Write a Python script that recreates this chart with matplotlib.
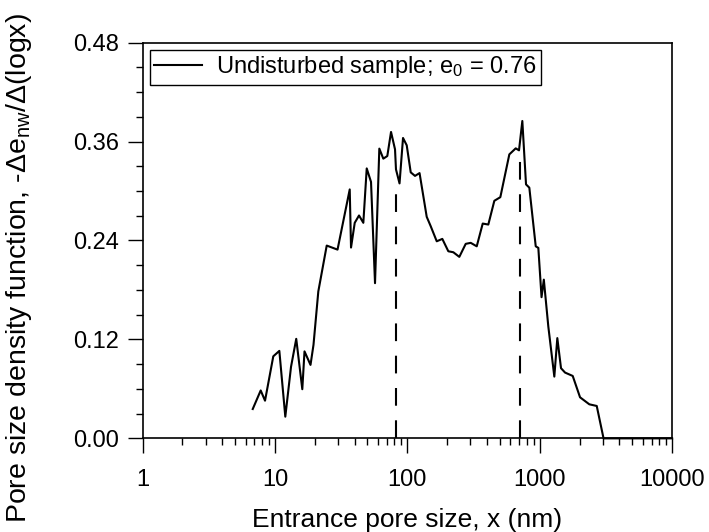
import numpy as np
import matplotlib
matplotlib.use("Agg")
import matplotlib.pyplot as plt
from matplotlib.ticker import FixedLocator, LogLocator, NullFormatter

plt.rcParams['font.family'] = ['Liberation Sans', 'DejaVu Sans']
plt.rcParams['mathtext.fontset'] = 'custom'
plt.rcParams['mathtext.rm'] = 'Liberation Sans'
plt.rcParams['mathtext.it'] = 'Liberation Sans:italic'

# pore size (nm) and density values
pore_size = [6.80, 7.81, 8.42, 9.72, 10.8, 11.98, 13.23, 14.49, 16.1, 16.73,
             18.57, 19.56, 21.27, 24.62, 29.71, 36.73, 37.57, 40.07, 43.17, 46.53,
             49.36, 53.19, 57.02, 61.45, 65.87, 70.61, 75.33, 80.74, 82.1, 87.33,
             92.8, 98.97, 106.1, 114.3, 123.7, 140.1, 150.2, 166.8, 183.8, 204.0,
             222.6, 247.0, 276.1, 301.2, 334.4, 371.1, 409.0, 454.1, 504.1, 589.5,
             658.7, 697.5, 738.9, 787.9, 834.6, 932.9, 976.0, 1032, 1074, 1161,
             1289, 1358, 1448, 1553, 1775, 2016, 2369, 2695, 3034, 10000]
density = [0.0356, 0.0581, 0.0457, 0.0995, 0.1061, 0.0263, 0.0867, 0.1207, 0.0596, 0.1055,
           0.0891, 0.1134, 0.1782, 0.2338, 0.2289, 0.3019, 0.2314, 0.2614, 0.2703, 0.2614,
           0.3274, 0.3110, 0.1882, 0.3514, 0.3392, 0.3424, 0.3716, 0.3505, 0.3262, 0.3092,
           0.3643, 0.3554, 0.3226, 0.3183, 0.3217, 0.2687, 0.2573, 0.2390, 0.2419, 0.2269,
           0.2257, 0.2201, 0.2359, 0.2371, 0.2329, 0.2605, 0.2593, 0.2881, 0.2925, 0.3444,
           0.3517, 0.3493, 0.3849, 0.3080, 0.3040, 0.2329, 0.2310, 0.1712, 0.1925, 0.1357,
           0.0749, 0.1216, 0.0851, 0.0798, 0.0757, 0.0498, 0.0413, 0.0393, 0.0, 0.0]

# dominant pore sizes marked with dashed lines
peak_sizes = [81.7, 710]
peak_tops = [0.308, 0.340]

y_ticks = [0.00, 0.12, 0.24, 0.36, 0.48]
x_ticks = [1, 10, 100, 1000, 10000]
x_tick_labels = ['1', '10', '100', '1000', '10000']

fig = plt.figure(figsize=(7.09, 5.32), dpi=100)
ax = fig.add_axes([0.201, 0.176, 0.747, 0.744])

ax.plot(pore_size, density, color='black', lw=1.5,
        label='Undisturbed sample; e$_0$ = 0.76', clip_on=False, zorder=3)
ax.vlines(peak_sizes, 0, peak_tops, colors='black', lw=1.5,
          linestyles=(0, (8.5, 7)))

ax.set_xscale('log')
ax.set_xlim(1, 10000)
ax.set_ylim(0, 0.48)

ax.xaxis.set_major_locator(FixedLocator(x_ticks))
ax.set_xticklabels(x_tick_labels)
ax.xaxis.set_minor_locator(LogLocator(base=10, subs=np.arange(2, 10), numticks=20))
ax.xaxis.set_minor_formatter(NullFormatter())
ax.set_yticks(y_ticks)
ax.set_yticklabels([f'{v:.2f}' for v in y_ticks])
ax.yaxis.set_minor_locator(FixedLocator(np.arange(0, 0.481, 0.03)))

ax.tick_params(which='major', direction='out', length=11, width=1, labelsize=17)
ax.tick_params(axis='x', which='major', pad=11)
ax.tick_params(axis='y', which='major', pad=6)
ax.tick_params(which='minor', direction='out', length=5, width=1)
for sp in ax.spines.values():
    sp.set_linewidth(1.2)

ax.set_xlabel('Entrance pore size, x (nm)', fontsize=19, labelpad=12)
ax.set_ylabel('Pore size density function, -\u0394e$_{\\mathrm{nw}}$/\u0394(logx)',
              fontsize=20.5)
ax.yaxis.set_label_coords(-0.205, 0.43)

leg = ax.legend(loc='upper left', fontsize=17, frameon=True, fancybox=False,
                framealpha=1, edgecolor='black', handlelength=2.0,
                borderaxespad=0.3, borderpad=0.2, handletextpad=0.6)
leg.get_frame().set_linewidth(1.0)

fig.savefig('out.png', dpi=100)
